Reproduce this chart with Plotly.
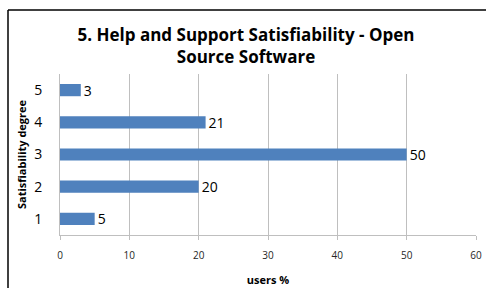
import plotly.graph_objects as go

categories = ["1", "2", "3", "4", "5"]
values = [5, 20, 50, 21, 3]
x_ticks = [0, 10, 20, 30, 40, 50, 60]

W, H = 486, 288
L, R, T, B = 60, 10, 74, 53
pw, ph = W - L - R, H - T - B

def px(x):
    return (x - L) / pw

def py(y):
    return (H - B - y) / ph

fig = go.Figure(go.Bar(
    y=categories, x=values, orientation="h",
    marker=dict(color="#4F81BD", line=dict(width=0)),
    width=0.38,
    text=[str(v) for v in values], textposition="outside",
    constraintext="none",
    textfont=dict(family="Open Sans, sans-serif", size=14, color="#000000"),
    cliponaxis=False,
))

fig.update_layout(
    width=W, height=H,
    margin=dict(l=L, r=R, t=T, b=B, autoexpand=False),
    paper_bgcolor="white", plot_bgcolor="white",
    showlegend=False,
    title=dict(
        text="<b>5. Help and Support Satisfiability - Open<br>Source Software</b>",
        x=246 / W, xanchor="center", xref="container",
        y=1 - 41 / H, yanchor="middle", yref="container",
        font=dict(family="Open Sans, sans-serif", size=17, color="#000000"),
    ),
    xaxis=dict(
        range=[0, 60], tickvals=x_ticks, ticktext=[str(t) for t in x_ticks],
        automargin=False,
        showgrid=True, gridcolor="#BFBFBF", gridwidth=1,
        showline=True, linecolor="#BFBFBF", linewidth=1,
        ticks="outside", ticklen=4, tickcolor="#BFBFBF",
        ticklabelstandoff=7,
        tickfont=dict(family="Open Sans, sans-serif", size=10, color="#262626"),
        zeroline=False,
        title=dict(text="<b>users %</b>", standoff=15,
                   font=dict(family="Open Sans, sans-serif", size=11, color="#000000")),
    ),
    yaxis=dict(
        categoryorder="array", categoryarray=categories,
        automargin=False,
        showgrid=False, showline=True, linecolor="#BFBFBF", linewidth=1,
        ticks="", ticklabelstandoff=14,
        tickfont=dict(family="Open Sans, sans-serif", size=14, color="#000000"),
        title=dict(text="<b>Satisfiability degree</b>", standoff=5,
                   font=dict(family="Open Sans, sans-serif", size=11, color="#000000")),
    ),
    shapes=[
        dict(type="line", xref="paper", yref="paper",
             x0=px(8), x1=px(486), y0=py(10), y1=py(10),
             line=dict(color="#000000", width=1.5)),
        dict(type="line", xref="paper", yref="paper",
             x0=px(8), x1=px(8), y0=py(10), y1=py(288),
             line=dict(color="#000000", width=1.5)),
    ],
)

fig.write_html("out.html", config={"displayModeBar": False},
               post_script="document.body.style.margin='0';")
